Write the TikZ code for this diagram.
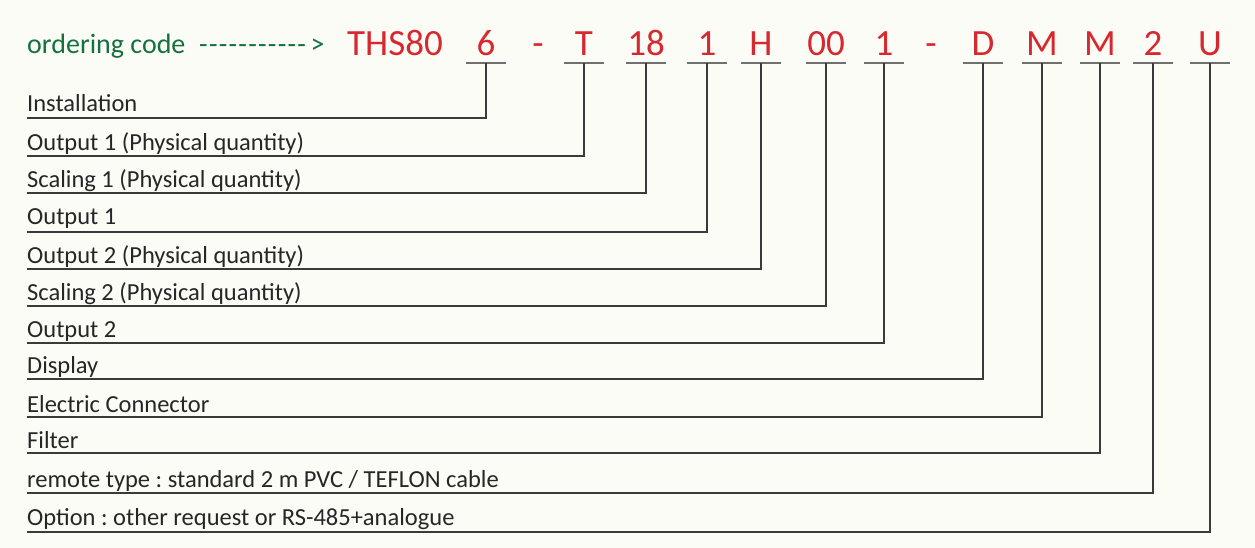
\documentclass[tikz,border=0pt]{standalone}
\usepackage{fontspec}
\newfontfamily\lab[Ligatures=TeXOff]{Carlito}
\frenchspacing
\definecolor{bg}{HTML}{FBFCF5}
\definecolor{codered}{HTML}{D8282F}
\definecolor{codegreen}{HTML}{15703F}
\definecolor{ulgray}{HTML}{707070}
\definecolor{lngray}{HTML}{3A3A3A}
\begin{document}
\begin{tikzpicture}[x=1pt,y=-1pt,
  codetxt/.style={font=\lab\fontsize{37}{37}\selectfont, text=codered, inner sep=0pt, anchor=base},
  titletxt/.style={font=\lab\fontsize{28}{28}\selectfont, text=codegreen, inner sep=0pt, anchor=base west},
  labtxt/.style={font=\lab\fontsize{24.5}{24.5}\selectfont\frenchspacing, text=black!85, inner sep=0pt, anchor=base west},
  ulline/.style={draw=ulgray, line width=1.6pt},
  conn/.style={draw=lngray, line width=1.2pt}]
\fill[bg] (0,0) rectangle (1255,548);
\useasboundingbox (0,0) rectangle (1255,548);
\node[titletxt] (title) at (27,54) {ordering code};
\node[titletxt, font=\lab\fontsize{28}{28}\selectfont\addfontfeature{LetterSpace=4.5}] (arrowtxt) at (199,54) {-----------\,>};
\node[codetxt] (ths) at (395,56) {THS80};
\node[codetxt] (dash1) at (538,56) {-};
\node[codetxt] (dash2) at (931,56) {-};
\foreach \i/\x/\t/\yb/\yl/\lbl in {
  1/486/6/112/118/{Installation},
  2/584/T/151/156/{Output 1 (Physical quantity)},
  3/646/18/188/193/{Scaling 1 (Physical quantity)},
  4/707/1/225/232/{Output 1},
  5/761/H/263/269/{Output 2 (Physical quantity)},
  6/826/00/300/306/{Scaling 2 (Physical quantity)},
  7/884/1/337/343/{Output 2},
  8/983/D/373/379/{Display},
  9/1042/M/412/417/{Electric Connector},
  10/1100/M/448/453/{Filter},
  11/1153/2/487/493/{remote type : standard 2 m PVC / TEFLON cable},
  12/1210/U/525/532/{Option : other request or RS-485+analogue}}{
  \node[codetxt] (c\i) at (\x,56) {\t};
  \coordinate (u\i) at (\x,63);
  \path[ulline] ([xshift=-20pt]u\i) -- ([xshift=20pt]u\i);
  \node[labtxt] (l\i) at (27,\yb) {\lbl};
  \coordinate (s\i) at (27,\yl);
  \path[conn] (u\i) |- (s\i);
}
\end{tikzpicture}
\end{document}
